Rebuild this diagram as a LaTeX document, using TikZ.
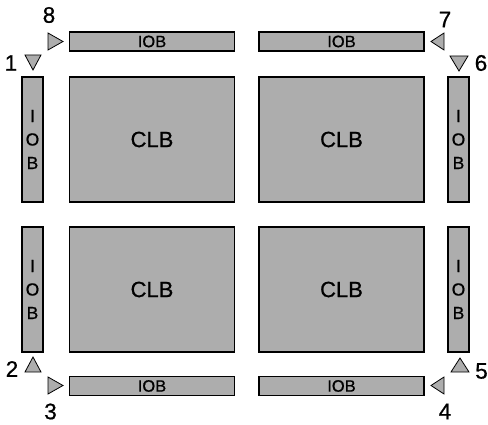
\documentclass[tikz,border=0pt]{standalone}
\usepackage{fontspec}
\setmainfont[FakeBold=0.8]{Liberation Sans}
\begin{document}
\begin{tikzpicture}[x=1pt,y=-1pt,
  blk/.style={draw=black, line width=1.1pt, fill=blkgray, inner sep=0pt},
  clb/.style={blk, minimum width=165pt, minimum height=125pt, font=\fontsize{22}{24}\selectfont},
  hiob/.style={blk, minimum width=165pt, minimum height=19pt, font=\fontsize{16.5}{18}\selectfont},
  viob/.style={blk, minimum width=21pt, minimum height=125pt, align=center, font=\fontsize{17.5}{23.5}\selectfont},
  tri/.style={draw=black, line width=0.8pt, fill=blkgray},
  num/.style={inner sep=0pt, font=\fontsize{22.5}{24}\selectfont}]
\definecolor{blkgray}{gray}{0.68}
\useasboundingbox (0,0) rectangle (488,425);
% top and bottom IOB bars
\node[hiob] (tl) at (152,41.5) {IOB};
\node[hiob] (tr) at (341.5,41.5) {IOB};
\node[hiob] (bl) at (152,386) {IOB};
\node[hiob] (br) at (341.5,386) {IOB};
% CLBs
\node[clb] (c1) at (152,139.5) {CLB};
\node[clb] (c2) at (341.5,139.5) {CLB};
\node[clb] (c3) at (152,289.5) {CLB};
\node[clb] (c4) at (341.5,289.5) {CLB};
% side IOBs
\node[viob] (l1) at (32.5,139.5) {I\\O\\B};
\node[viob] (l2) at (32.5,289.5) {I\\O\\B};
\node[viob] (r1) at (458.5,139.5) {I\\O\\B};
\node[viob] (r2) at (458.5,289.5) {I\\O\\B};
% triangles
\draw[tri] (48,33) -- (63,41.5) -- (48,50) -- cycle;   % 8
\draw[tri] (25,55) -- (41,55) -- (33,70) -- cycle;     % 1
\draw[tri] (444,33) -- (431,41.5) -- (444,50) -- cycle; % 7
\draw[tri] (450,56) -- (468,56) -- (459,71) -- cycle;  % 6
\draw[tri] (25,372) -- (41,372) -- (33,357) -- cycle;  % 2
\draw[tri] (48,377) -- (63,385.5) -- (48,394) -- cycle; % 3
\draw[tri] (451,372) -- (469,372) -- (460,358) -- cycle; % 5
\draw[tri] (444,377) -- (431,385.5) -- (444,394) -- cycle; % 4
% numbers
\node[num] (n8) at (49,15) {8};
\node[num] (n1) at (11,63) {1};
\node[num] (n7) at (445,19.5) {7};
\node[num] (n6) at (481,63) {6};
\node[num] (n2) at (12,369) {2};
\node[num] (n3) at (50.5,411.5) {3};
\node[num] (n5) at (481.5,371) {5};
\node[num] (n4) at (445,411.5) {4};
\end{tikzpicture}
\end{document}
